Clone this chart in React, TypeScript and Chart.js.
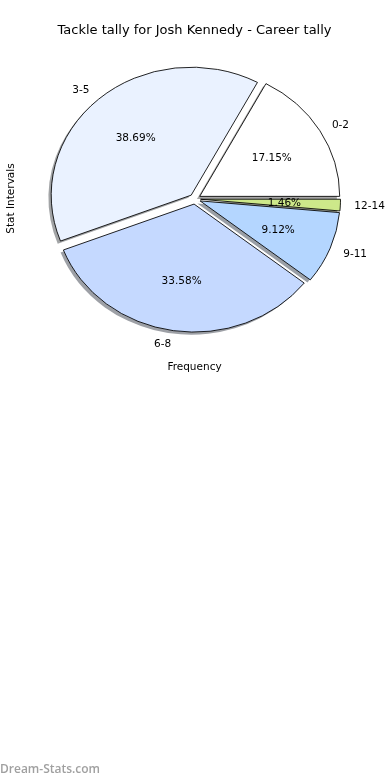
import React, { useEffect, useRef } from "react";
import { Chart, registerables } from "chart.js";

Chart.register(...registerables);

const TITLE = "Tackle tally for Josh Kennedy - Career tally";
const X_LABEL = "Frequency";
const Y_LABEL = "Stat Intervals";
const WATERMARK = "Dream-Stats.com";

const categories = ["0-2", "3-5", "6-8", "9-11", "12-14"];
const counts = [47, 106, 92, 25, 4];
const sliceColors = ["#ffffff", "#eaf2ff", "#c5d9ff", "#b4d6ff", "#cde88a"];

// geometry (matplotlib-like, non-equal aspect pie)
const RX = 140;
const SY = 128 / 140;
const EXPLODE = 5.6;
const SHADOW_DX = -2.8;
const SHADOW_DY = 2.6;
const FONT = '"DejaVu Sans", sans-serif';
const TEXT_DY = 1;

function hexToRgb(h: string) {
  const n = parseInt(h.slice(1), 16);
  return [(n >> 16) & 255, (n >> 8) & 255, n & 255];
}

export default function App() {
  const ref = useRef<HTMLCanvasElement | null>(null);

  useEffect(() => {
    if (!ref.current) return;
    // Chart.js draws clockwise; matplotlib counter-clockwise -> reverse order
    const labels = [...categories].reverse();
    const data = [...counts].reverse();
    const colors = [...sliceColors].reverse();
    const total = counts.reduce((a, b) => a + b, 0);

    const piePlugin = {
      id: "mplPie",
      beforeDatasetsDraw(chart: any) {
        const ctx = chart.ctx;
        const arcs = chart.getDatasetMeta(0).data;
        if (!arcs.length) return false;
        const cx = arcs[0].x;
        const cy = arcs[0].y;
        ctx.save();
        ctx.translate(cx, cy);
        ctx.scale(1, SY);
        ctx.translate(-cx, -cy);
        // shadows
        arcs.forEach((a: any, i: number) => {
          const mid = (a.startAngle + a.endAngle) / 2;
          const dx = Math.cos(mid) * EXPLODE + SHADOW_DX;
          const dy = Math.sin(mid) * EXPLODE + SHADOW_DY / SY;
          const [r, g, b] = hexToRgb(colors[i]);
          ctx.beginPath();
          ctx.moveTo(a.x + dx, a.y + dy);
          ctx.arc(a.x + dx, a.y + dy, a.outerRadius, a.startAngle, a.endAngle);
          ctx.closePath();
          ctx.fillStyle = `rgba(${r * 0.3},${g * 0.3},${b * 0.3},0.5)`;
          ctx.fill();
        });
        // wedges
        arcs.forEach((a: any) => {
          const mid = (a.startAngle + a.endAngle) / 2;
          ctx.save();
          ctx.translate(Math.cos(mid) * EXPLODE, Math.sin(mid) * EXPLODE);
          a.draw(ctx, chart.chartArea);
          ctx.restore();
        });
        ctx.restore();

        // labels
        ctx.save();
        ctx.fillStyle = "#000";
        ctx.font = `10.5px ${FONT}`;
        ctx.textBaseline = "middle";
        arcs.forEach((a: any, i: number) => {
          const mid = (a.startAngle + a.endAngle) / 2;
          const c = Math.cos(mid);
          const s = Math.sin(mid);
          const ax = a.x + c * EXPLODE;
          const ay = a.y + s * EXPLODE * SY + TEXT_DY;
          const R = a.outerRadius;
          ctx.textAlign = "center";
          const pct = ((data[i] / total) * 100).toFixed(2) + "%";
          ctx.fillText(pct, ax + 0.6 * R * c, ay + 0.6 * R * s * SY);
          ctx.textAlign = c > 0 ? "left" : "right";
          ctx.fillText(labels[i], ax + 1.1 * R * c, ay + 1.1 * R * s * SY);
        });
        ctx.restore();
        return false;
      },
      afterDraw(chart: any) {
        const ctx = chart.ctx;
        ctx.save();
        ctx.fillStyle = "#000";
        ctx.textBaseline = "middle";
        ctx.textAlign = "center";
        ctx.font = `13px ${FONT}`;
        ctx.fillText(TITLE, 194.5, 31);
        ctx.font = `10.5px ${FONT}`;
        ctx.fillText(X_LABEL, 194.5, 367);
        ctx.save();
        ctx.translate(11, 198.5);
        ctx.rotate(-Math.PI / 2);
        ctx.fillText(Y_LABEL, 0, 0);
        ctx.restore();
        ctx.textAlign = "left";
        ctx.fillStyle = "#a0a0a0";
        ctx.font = `600 12px "Open Sans", sans-serif`;
        ctx.fillText(WATERMARK, 0, 770);
        ctx.restore();
      },
    };

    const chart = new Chart(ref.current, {
      type: "pie",
      data: {
        labels,
        datasets: [
          {
            data,
            backgroundColor: colors,
            borderColor: "#000",
            borderWidth: 0.9,
          },
        ],
      },
      options: {
        animation: false,
        responsive: true,
        maintainAspectRatio: false,
        events: [],
        rotation: 90,
        radius: RX,
        layout: { padding: { left: 0.4, top: 0, right: 0.6, bottom: 382 } },
        plugins: {
          legend: { display: false },
          tooltip: { enabled: false },
          title: { display: false },
        },
      },
      plugins: [piePlugin],
    });
    return () => chart.destroy();
  }, []);

  return (
    <div style={{ position: "fixed", left: 0, top: 0, width: 390, height: 780, background: "#fff" }}>
      <canvas ref={ref} />
    </div>
  );
}
